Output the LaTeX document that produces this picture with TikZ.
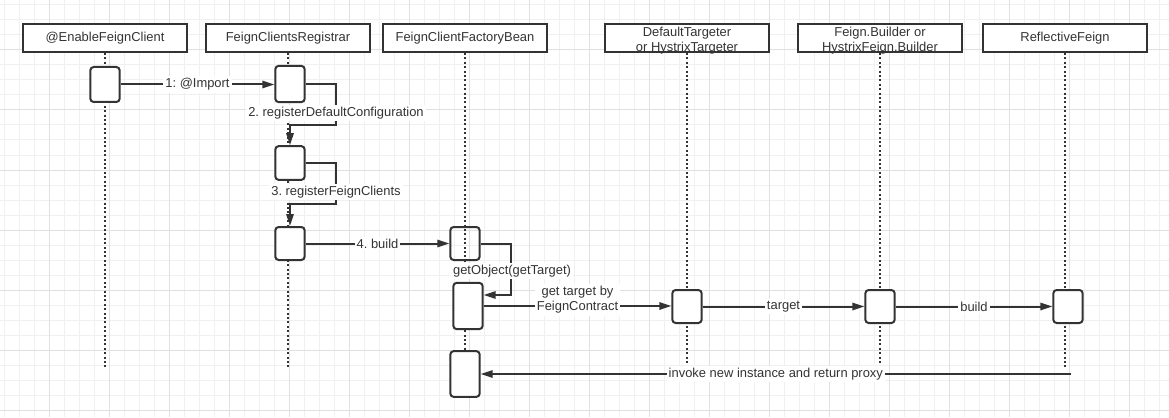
\documentclass[tikz,border=0pt]{standalone}
\usepackage{fontspec}
\setmainfont{Liberation Sans}
\usetikzlibrary{positioning,arrows.meta}
\definecolor{ink}{HTML}{333333}
\definecolor{gridminor}{HTML}{F0F0F0}
\definecolor{gridmajor}{HTML}{E0E0E0}
\frenchspacing

\begin{document}
\begin{tikzpicture}[x=0.75pt, y=-0.75pt,
    every node/.style = {font=\fontsize{9.7pt}{11.25pt}\selectfont, text=ink},
    head/.style = {draw=ink, line width=1.5pt, fill=white, align=center,
                   minimum width=123pt, minimum height=21pt, inner sep=0pt},
    act/.style = {draw=ink, line width=1.5pt, rounded corners=2.5pt, fill=white,
                  minimum width=22pt, inner sep=0pt},
    life/.style = {ink, line width=1.5pt, dash pattern=on 1.5pt off 1.8pt},
    msg/.style = {ink, line width=1.5pt, -{Triangle[length=9pt,width=5.5pt]}},
    lbl/.style = {fill=white, inner sep=1.5pt, align=center}]
  \useasboundingbox (0,0) rectangle (1169,417);
  \fill[white] (0,0) rectangle (1169,417);
  % background grid
  \foreach \x in {4,19,...,1169} \draw[gridminor, line width=0.75pt] (\x,0) -- (\x,417);
  \foreach \y in {5,20,...,417} \draw[gridminor, line width=0.75pt] (0,\y) -- (1169,\y);
  \foreach \x in {49,109,...,1169} \draw[gridmajor, line width=0.75pt] (\x,0) -- (\x,417);
  \foreach \y in {50,110,...,417} \draw[gridmajor, line width=0.75pt] (0,\y) -- (1169,\y);

  % participants
  \node[head] (enable)     at (105,38)  {@EnableFeignClient};
  \node[head] (registrar)  at (288,38)  {FeignClientsRegistrar};
  \node[head] (factory)    at (465,38)  {FeignClientFactoryBean};
  \node[head, text height=20.4pt, text depth=0pt] (targeter) at (687,38) {DefaultTargeter\\or HystrixTargeter};
  \node[head, text height=20.4pt, text depth=0pt] (builder)  at (880,38) {Feign.Builder or\\HystrixFeign.Builder};
  \node[head] (reflective) at (1065,38) {ReflectiveFeign};

  % lifelines
  \coordinate (enable end)     at (105,368);
  \coordinate (registrar end)  at (288,368);
  \coordinate (factory end)    at (465,396);
  \coordinate (targeter end)   at (687,363);
  \coordinate (builder end)    at (880,363);
  \coordinate (reflective end) at (1065,368);
  \foreach \p in {enable,registrar,factory,targeter,builder,reflective}
    \draw[life] (\p) -- (\p\space end);

  % activations
  \node[act, minimum height=26.25pt] (a1)  at (105,84.5)  {};
  \node[act, minimum height=27.2pt]  (a2)  at (290,84)    {};
  \node[act, minimum height=25.3pt]  (a3)  at (290,163)   {};
  \node[act, minimum height=24.75pt] (a4)  at (290,243.5) {};
  \node[act, minimum height=24.75pt, fill=none] (a5) at (465,243.5) {};
  \node[act, minimum height=34.7pt]  (a6)  at (468,306)   {};
  \node[act, minimum height=24.75pt] (a7)  at (687,306.5) {};
  \node[act, minimum height=24.75pt] (a8)  at (880,306.5) {};
  \node[act, minimum height=24.75pt] (a9)  at (1068,306.5) {};
  \node[act, minimum height=34.3pt]  (a10) at (465,374)   {};

  % messages
  \draw[msg] (a1.east) -- (a1.east -| a2.west) node[lbl, midway] (m1) {1: @Import};
  \draw[msg] (a2.east) -| (336,125) -| (a3.north);
  \node[lbl] (m2) at (336,113) {2. registerDefaultConfiguration};
  \draw[msg] (a3.east) -| (336,204) -| (a4.north);
  \node[lbl] (m3) at (336,192) {3. registerFeignClients};
  \draw[msg] (a4.east) -- (a5.west) node[lbl, midway] (m4) {4. build};
  \coordinate (getobj) at (511,295);
  \draw[msg] (a5.east) -| (getobj) -- (getobj -| a6.east);
  \node[lbl] (m5) at (512,271) {getObject(getTarget)};
  \draw[msg] (a6.east) -- (a6.east -| a7.west)
    node[lbl, midway, yshift=4.5pt] (m6) {get target by\\FeignContract};
  \draw[msg] (a7.east) -- (a8.west) node[lbl, midway] (m7) {target};
  \draw[msg] (a8.east) -- (a9.west) node[lbl, midway] (m8) {build};
  \coordinate (proxy start) at (1071,374);
  \draw[msg] (proxy start) -- (a10.east)
    node[lbl, midway] (m9) {invoke new instance and return proxy};
\end{tikzpicture}
\end{document}
